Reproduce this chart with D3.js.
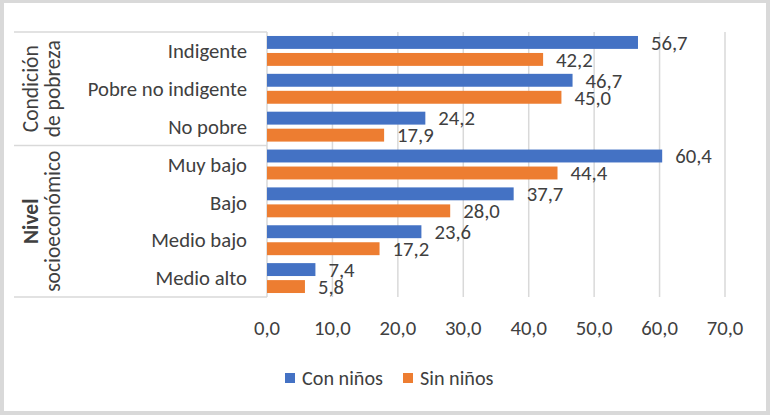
<!DOCTYPE html>
<html>
<head>
<meta charset="utf-8">
<script src="https://cdn.jsdelivr.net/npm/d3@7"></script>
<style>
  body { margin: 0; }
  svg text { font-family: Carlito, Calibri, "Liberation Sans", Arial, sans-serif; fill: #404040; }
</style>
</head>
<body>
<script>
  const categories = ["Indigente", "Pobre no indigente", "No pobre", "Muy bajo", "Bajo", "Medio bajo", "Medio alto"];
  const conNinos = [56.7, 46.7, 24.2, 60.4, 37.7, 23.6, 7.4];
  const sinNinos = [42.2, 45.0, 17.9, 44.4, 28.0, 17.2, 5.8];
  const seriesNames = ["Con niños", "Sin niños"];
  const seriesColors = ["#4472C4", "#ED7D31"];
  const ticks = [0, 10, 20, 30, 40, 50, 60, 70];
  const groups = [
    { lines: ["Condición", "de pobreza"], bold: [false, false], from: 0, to: 3 },
    { lines: ["Nivel", "socioeconómico"], bold: [true, false], from: 3, to: 7 }
  ];

  const w = 770, h = 415;
  const fmt = v => d3.format(".1f")(v).replace(".", ",");

  const svg = d3.select("body").append("svg")
    .attr("width", w).attr("height", h);

  // frame
  svg.append("rect").attr("width", w).attr("height", h).attr("fill", "#d9d9d9");
  svg.append("rect").attr("x", 4).attr("y", 3).attr("width", 762).attr("height", 408).attr("fill", "#fff");

  const x = d3.scaleLinear().domain([0, 70]).range([267, 725]);
  const y = d3.scaleBand().domain(categories).range([32, 297])
    .paddingInner(0.21).paddingOuter(0.105);
  const sub = d3.scaleBand().domain(seriesNames).range([0, y.bandwidth()]).paddingInner(0.24);

  // gridlines
  svg.append("g").selectAll("line").data(ticks).enter().append("line")
    .attr("x1", d => x(d)).attr("x2", d => x(d))
    .attr("y1", 32).attr("y2", 297)
    .attr("stroke", "#d9d9d9").attr("stroke-width", 1.5);

  // left table lines
  const bounds = [0, 3, 7].map(i => 32 + i * y.step());
  svg.append("g").selectAll("line").data(bounds).enter().append("line")
    .attr("x1", 14).attr("x2", x(0))
    .attr("y1", d => d).attr("y2", d => d)
    .attr("stroke", "#d9d9d9").attr("stroke-width", 1.5);

  // group labels
  groups.forEach(g => {
    const cy = 32 + (g.from + g.to) / 2 * y.step();
    g.lines.forEach((t, i) => {
      const bx = 38 + i * 22;
      svg.append("text")
        .attr("transform", `translate(${bx},${cy}) rotate(-90)`)
        .attr("text-anchor", "middle")
        .attr("font-size", "21.5px")
        .attr("font-weight", g.bold[i] ? "bold" : "normal")
        .text(t);
    });
  });

  // category labels
  svg.append("g").selectAll("text").data(categories).enter().append("text")
    .attr("x", 247)
    .attr("y", d => y(d) + y.bandwidth() / 2)
    .attr("dy", "0.35em")
    .attr("text-anchor", "end")
    .attr("font-size", "20.7px")
    .text(d => d);

  // bars
  const rows = categories.map((c, i) => ({ c, vals: [conNinos[i], sinNinos[i]] }));
  const rowG = svg.append("g").selectAll("g").data(rows).enter().append("g")
    .attr("transform", d => `translate(0,${y(d.c)})`);

  rowG.selectAll("rect")
    .data(d => d.vals.map((v, j) => ({ v, s: seriesNames[j], color: seriesColors[j] })))
    .enter().append("rect")
    .attr("x", x(0))
    .attr("y", d => sub(d.s))
    .attr("width", d => x(d.v) - x(0))
    .attr("height", sub.bandwidth())
    .attr("fill", d => d.color);

  rowG.selectAll("text")
    .data(d => d.vals.map((v, j) => ({ v, s: seriesNames[j] })))
    .enter().append("text")
    .attr("x", d => x(d.v) + 13)
    .attr("y", d => sub(d.s) + sub.bandwidth() / 2)
    .attr("dy", "0.35em")
    .attr("font-size", "20.7px")
    .text(d => fmt(d.v));

  // x tick labels
  svg.append("g").selectAll("text").data(ticks).enter().append("text")
    .attr("x", d => x(d))
    .attr("y", 335)
    .attr("text-anchor", "middle")
    .attr("font-size", "20.7px")
    .text(d => fmt(d));

  // legend
  const legX = [285, 403];
  const leg = svg.append("g").selectAll("g").data(seriesNames).enter().append("g")
    .attr("transform", (d, i) => `translate(${legX[i]},373)`);
  leg.append("rect").attr("width", 10).attr("height", 10)
    .attr("fill", (d, i) => seriesColors[i]);
  leg.append("text").attr("x", 17).attr("y", 12)
    .attr("font-size", "20.2px")
    .text(d => d);
</script>
</body>
</html>
